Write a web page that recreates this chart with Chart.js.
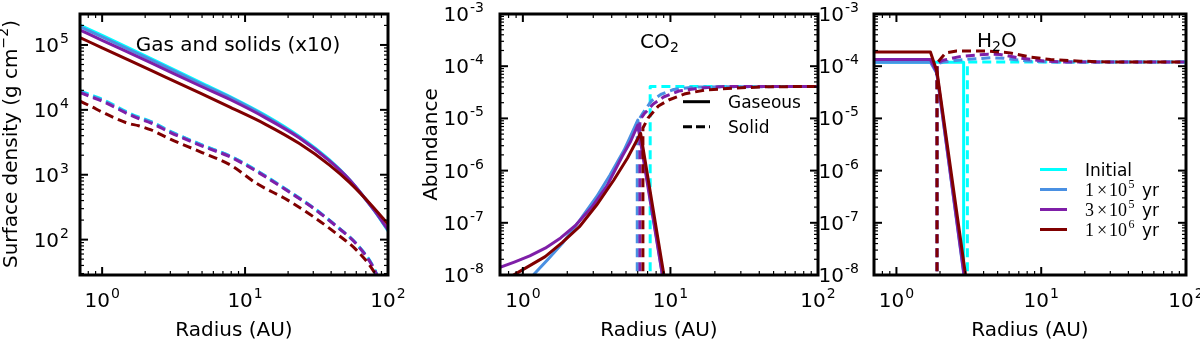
<!DOCTYPE html>
<html>
<head>
<meta charset="utf-8">
<script src="https://cdn.jsdelivr.net/npm/chart.js@4"></script>
<style>
  body { margin: 0; background: #fff; }
  #wrap { position: relative; width: 1200px; height: 341px; overflow: hidden; }
  canvas { position: absolute; top: 0; }
</style>
</head>
<body>
<div id="wrap">
  <canvas id="c1" width="430" height="341" style="left:0px"></canvas>
  <canvas id="c2" width="440" height="341" style="left:410px"></canvas>
  <canvas id="c3" width="400" height="341" style="left:800px"></canvas>
</div>
<script>
// ---------- DATA ----------
const colors = ['#00ffff', '#4a90e2', '#7f1fa8', '#800000'];
const legendMant = ['', '1', '3', '1'];
const legendExp = ['', '5', '5', '6'];

// panel 1 : surface density (gas solid lines, solids x10 dashed)
const gasRadius = [0.7, 1, 2.2, 4.9, 7.9, 13.8, 24, 39, 54, 80, 100];
const gasInitial = [2.03e5, 1.40e5, 6.18e4, 2.63e4, 1.59e4, 8.32e3, 3.89e3, 1.69e3, 832, 282, 136];
const gas1e5 = [1.92e5, 1.33e5, 5.89e4, 2.52e4, 1.54e4, 8.03e3, 3.77e3, 1.65e3, 832, 282, 140];
const gas3e5 = [1.70e5, 1.18e5, 5.30e4, 2.31e4, 1.43e4, 7.60e3, 3.69e3, 1.63e3, 826, 284, 143];
const gas1e6 = [1.30e5, 9.03e4, 4.05e4, 1.79e4, 1.09e4, 6.04e3, 3.02e3, 1.41e3, 754, 305, 173];

const dustRadius = [0.7, 0.85, 1, 1.5, 1.8, 2.2, 3, 5, 8, 12, 20, 30, 45, 60, 80, 100];
const dustInitial = [1.97e4, 1.67e4, 1.46e4, 9.25e3, 7.76e3, 6.6e3, 4.68e3, 2.88e3, 1.91e3, 1.17e3, 570, 312, 153, 87, 36, 10];
const dust1e5 = [1.9e4, 1.62e4, 1.42e4, 9.0e3, 7.6e3, 6.5e3, 4.62e3, 2.85e3, 1.9e3, 1.16e3, 565, 310, 152, 86, 35.5, 10];
const dust3e5 = [1.84e4, 1.56e4, 1.36e4, 8.74e3, 7.33e3, 6.25e3, 4.47e3, 2.77e3, 1.85e3, 1.13e3, 556, 305, 151, 86, 35, 10];
const dust1e6 = [1.36e4, 1.11e4, 9.24e3, 6.25e3, 5.68e3, 4.90e3, 3.53e3, 2.20e3, 1.39e3, 738, 403, 226, 117, 69.5, 31.8, 11.9];

// panel 2 : CO2 abundance
const co2GasR1e5 = [1.079, 1.207, 1.487, 1.853, 2.407, 3.162, 3.897, 4.857, 5.37, 6.01, 8.91];
const co2Gas1e5 = [7.3e-9, 1.08e-8, 2.03e-8, 4.05e-8, 1.08e-7, 3.16e-7, 8.24e-7, 2.48e-6, 4.6e-6, 9.3e-6, 8.4e-9];
const co2GasR3e5 = [0.7, 0.875, 1.114, 1.417, 1.803, 2.294, 2.918, 3.713, 4.725, 5.37, 6.01, 8.91];
const co2Gas3e5 = [1.40e-8, 1.77e-8, 2.32e-8, 3.26e-8, 5.12e-8, 9.16e-8, 1.96e-7, 5.11e-7, 1.9e-6, 3.61e-6, 7.48e-6, 8.4e-9];
const co2GasR1e6 = [0.808, 0.948, 1.417, 1.853, 2.418, 3.162, 4.135, 5.12, 6.28, 9.13];
const co2Gas1e6 = [8.9e-9, 1.16e-8, 2.25e-8, 4.2e-8, 8.41e-8, 2.19e-7, 6.6e-7, 1.74e-6, 5.19e-6, 8.3e-9];

const co2IceRInit = [7.29, 7.29, 100];
const co2IceInit = [1e-9, 4.1e-5, 4.1e-5];
const co2IceR1e5 = [5.96, 5.96, 6.51, 7.41, 8.70, 10.5, 14.5, 100];
const co2Ice1e5 = [1e-9, 8.5e-6, 1.27e-5, 2.15e-5, 2.93e-5, 3.58e-5, 4.0e-5, 4.1e-5];
const co2IceR3e5 = [6.21, 6.21, 6.62, 7.65, 8.98, 11.4, 15.8, 23.5, 100];
const co2Ice3e5 = [1e-9, 9.3e-6, 1.21e-5, 1.89e-5, 2.57e-5, 3.35e-5, 3.82e-5, 4.08e-5, 4.1e-5];
const co2IceR1e6 = [6.51, 6.51, 7.06, 8.29, 9.73, 12.4, 17.1, 27.6, 44.7, 100];
const co2Ice1e6 = [1e-9, 6.55e-6, 1.02e-5, 1.73e-5, 2.25e-5, 2.93e-5, 3.50e-5, 3.82e-5, 4.03e-5, 4.1e-5];

// panel 3 : H2O abundance
const h2oGasRInit = [0.7, 2.912, 2.912];
const h2oGasInit = [1.19e-4, 1.19e-4, 1e-9];
const h2oGasR1e5 = [0.7, 1.717, 1.9, 2.97];
const h2oGas1e5 = [1.19e-4, 1.19e-4, 7.3e-5, 7.3e-9];
const h2oGasR3e5 = [0.7, 1.717, 1.9, 2.98];
const h2oGas3e5 = [1.34e-4, 1.34e-4, 7.6e-5, 7.3e-9];
const h2oGasR1e6 = [0.7, 1.717, 1.907, 3.05];
const h2oGas1e6 = [1.87e-4, 1.87e-4, 7.85e-5, 7.3e-9];

const h2oIceRInit = [3.09, 3.09, 100];
const h2oIceInit = [1e-9, 1.2e-4, 1.2e-4];
const h2oIceR1e5 = [1.907, 1.907, 2.1, 3, 4.5, 5.5, 8, 12, 100];
const h2oIce1e5 = [1e-9, 1.1e-4, 1.2e-4, 1.35e-4, 1.45e-4, 1.42e-4, 1.26e-4, 1.2e-4, 1.2e-4];
const h2oIceR3e5 = [1.907, 1.907, 2.1, 2.8, 4.3, 5.2, 7.2, 10.5, 15, 100];
const h2oIce3e5 = [1e-9, 1.15e-4, 1.3e-4, 1.55e-4, 1.7e-4, 1.68e-4, 1.42e-4, 1.26e-4, 1.2e-4, 1.2e-4];
const h2oIceR1e6 = [1.907, 1.907, 2.19, 2.6, 4.3, 6.1, 8.4, 11.6, 18.6, 30, 100];
const h2oIce1e6 = [1e-9, 1.15e-4, 1.8e-4, 1.95e-4, 1.95e-4, 1.8e-4, 1.5e-4, 1.34e-4, 1.25e-4, 1.2e-4, 1.2e-4];

// ---------- HELPERS ----------
const FONT = '"DejaVu Sans", sans-serif';
const SERIF = '"Liberation Serif", serif';

let drawIdx = 0;
function ds(rs, vs, color, dashed, smooth) {
  drawIdx++;
  return {
    data: rs.map((r, i) => ({ x: r, y: vs[i] })),
    borderColor: color,
    borderDash: dashed ? [9, 5] : [],
    cubicInterpolationMode: smooth ? 'monotone' : 'default',
    order: -drawIdx,   // later datasets on top
    clip: 0,
    fill: false
  };
}

function logTicks(min, max) {
  const out = [];
  for (let d = Math.floor(Math.log10(min)); d <= Math.ceil(Math.log10(max)); d++) {
    for (let m = 1; m <= 9; m++) {
      const v = m * Math.pow(10, d);
      if (v >= min * 0.9999 && v <= max * 1.0001) out.push({ v: v, major: m === 1, e: d });
    }
  }
  return out;
}

// "10" with superscript exponent
function powLabel(ctx, e, x, baseY, align) {
  const es = String(e);
  ctx.font = '20px ' + FONT;
  const w1 = ctx.measureText('10').width;
  ctx.font = '14px ' + FONT;
  const w2 = ctx.measureText(es).width;
  const x0 = align === 'right' ? x - w1 - w2 - 1 : x - (w1 + w2 + 1) / 2;
  ctx.textAlign = 'left';
  ctx.textBaseline = 'alphabetic';
  ctx.font = '20px ' + FONT;
  ctx.fillText('10', x0, baseY);
  ctx.font = '14px ' + FONT;
  ctx.fillText(es, x0 + w1 + 1, baseY - 9);
}

function makeFrame(yPad, extra) {
  return {
    id: 'frame',
    afterDraw(chart) {
      const ctx = chart.ctx, a = chart.chartArea;
      const xs = chart.scales.x, ys = chart.scales.y;
      ctx.save();
      ctx.strokeStyle = '#000';
      ctx.fillStyle = '#000';
      const seg = (x1, y1, x2, y2) => { ctx.beginPath(); ctx.moveTo(x1, y1); ctx.lineTo(x2, y2); ctx.stroke(); };
      logTicks(xs.min, xs.max).forEach(t => {
        const p = xs.getPixelForValue(t.v), L = t.major ? 8 : 4;
        ctx.lineWidth = t.major ? 2 : 1.2;
        seg(p, a.bottom, p, a.bottom - L);
        seg(p, a.top, p, a.top + L);
        if (t.major) powLabel(ctx, t.e, p, 307, 'center');
      });
      logTicks(ys.min, ys.max).forEach(t => {
        const p = ys.getPixelForValue(t.v), L = t.major ? 8 : 4;
        ctx.lineWidth = t.major ? 2 : 1.2;
        seg(a.left, p, a.left + L, p);
        seg(a.right, p, a.right - L, p);
        if (t.major) powLabel(ctx, t.e, a.left - yPad, p + 7, 'right');
      });
      ctx.lineWidth = 3;
      ctx.strokeRect(a.left, a.top, a.right - a.left, a.bottom - a.top);
      ctx.font = '20px ' + FONT;
      ctx.textAlign = 'center';
      ctx.textBaseline = 'alphabetic';
      ctx.fillText('Radius (AU)', (a.left + a.right) / 2, 336);
      if (extra) extra(ctx, a);
      ctx.restore();
    }
  };
}

function vTitle(ctx, x, y, parts) {
  ctx.save();
  ctx.translate(x, y);
  ctx.rotate(-Math.PI / 2);
  let w = 0;
  parts.forEach(p => { ctx.font = p.font; p.w = ctx.measureText(p.t).width; w += p.w; });
  let cx = -w / 2;
  ctx.textAlign = 'left';
  parts.forEach(p => { ctx.font = p.font; ctx.fillText(p.t, cx, p.dy || 0); cx += p.w; });
  ctx.restore();
}

function mkChart(id, xMin, xMax, yMin, yMax, pad, datasets, frame) {
  return new Chart(document.getElementById(id), {
    type: 'line',
    data: { datasets: datasets },
    options: {
      responsive: false,
      animation: false,
      layout: { padding: pad },
      scales: {
        x: { type: 'logarithmic', min: xMin, max: xMax, display: false },
        y: { type: 'logarithmic', min: yMin, max: yMax, display: false }
      },
      plugins: { legend: { display: false }, tooltip: { enabled: false } },
      elements: {
        point: { radius: 0 },
        line: { borderWidth: 3, tension: 0, borderJoinStyle: 'round' }
      }
    },
    plugins: [frame]
  });
}

// ---------- PANEL 1 ----------
const sets1 = [
  ds(gasRadius, gasInitial, colors[0], false, true), ds(dustRadius, dustInitial, colors[0], true, true),
  ds(gasRadius, gas1e5, colors[1], false, true), ds(dustRadius, dust1e5, colors[1], true, true),
  ds(gasRadius, gas3e5, colors[2], false, true), ds(dustRadius, dust3e5, colors[2], true, true),
  ds(gasRadius, gas1e6, colors[3], false, true), ds(dustRadius, dust1e6, colors[3], true, true)
];
mkChart('c1', 0.71, 100, 28.5, 3e5, { left: 80, right: 42, top: 14, bottom: 66 }, sets1,
  makeFrame(11, (ctx, a) => {
    ctx.font = '20px ' + FONT;
    ctx.textAlign = 'center';
    ctx.fillText('Gas and solids (x10)', 238, 51);
    vTitle(ctx, 17, 144, [
      { t: 'Surface density (g cm', font: '20px ' + FONT },
      { t: '\u22122', font: '14px ' + FONT, dy: -9 },
      { t: ')', font: '20px ' + FONT }
    ]);
  }));

// ---------- PANEL 2 ----------
const sets2 = [
  ds(co2IceRInit, co2IceInit, colors[0], true),
  ds(co2GasR1e5, co2Gas1e5, colors[1], false), ds(co2IceR1e5, co2Ice1e5, colors[1], true),
  ds(co2GasR3e5, co2Gas3e5, colors[2], false), ds(co2IceR3e5, co2Ice3e5, colors[2], true),
  ds(co2GasR1e6, co2Gas1e6, colors[3], false), ds(co2IceR1e6, co2Ice1e6, colors[3], true)
];
mkChart('c2', 0.71, 100, 1e-8, 1e-3, { left: 90, right: 32, top: 14, bottom: 66 }, sets2,
  makeFrame(16, (ctx, a) => {
    const ox = 410;
    ctx.textAlign = 'left';
    ctx.font = '20px ' + FONT;
    ctx.fillText('CO', 640 - ox, 48);
    ctx.font = '14px ' + FONT;
    ctx.fillText('2', 670 - ox, 52);
    vTitle(ctx, 436.5 - ox, 144.5, [{ t: 'Abundance', font: '20px ' + FONT }]);
    // legend: line styles
    ctx.strokeStyle = '#000';
    ctx.lineWidth = 3;
    ctx.beginPath(); ctx.moveTo(683 - ox, 101.7); ctx.lineTo(710 - ox, 101.7); ctx.stroke();
    ctx.setLineDash([9, 4]);
    ctx.beginPath(); ctx.moveTo(683 - ox, 126.7); ctx.lineTo(710 - ox, 126.7); ctx.stroke();
    ctx.setLineDash([]);
    ctx.font = '17px ' + FONT;
    ctx.fillText('Gaseous', 728 - ox, 107.5);
    ctx.fillText('Solid', 728 - ox, 132.5);
  }));

// ---------- PANEL 3 ----------
const sets3 = [
  ds(h2oGasRInit, h2oGasInit, colors[0], false), ds(h2oIceRInit, h2oIceInit, colors[0], true),
  ds(h2oGasR1e5, h2oGas1e5, colors[1], false), ds(h2oIceR1e5, h2oIce1e5, colors[1], true),
  ds(h2oGasR3e5, h2oGas3e5, colors[2], false), ds(h2oIceR3e5, h2oIce3e5, colors[2], true),
  ds(h2oGasR1e6, h2oGas1e6, colors[3], false), ds(h2oIceR1e6, h2oIce1e6, colors[3], true)
];
mkChart('c3', 0.71, 100, 1e-8, 1e-3, { left: 74, right: 14, top: 14, bottom: 66 }, sets3,
  makeFrame(15, (ctx, a) => {
    const ox = 800;
    ctx.textAlign = 'left';
    ctx.font = '20px ' + FONT;
    ctx.fillText('H', 977 - ox, 46.5);
    const wH = ctx.measureText('H').width;
    ctx.font = '14px ' + FONT;
    ctx.fillText('2', 977 - ox + wH, 50.5);
    const w2 = ctx.measureText('2').width;
    ctx.font = '20px ' + FONT;
    ctx.fillText('O', 977 - ox + wH + w2, 46.5);
    // legend
    colors.forEach((c, i) => {
      const y = 169.5 + 20 * i;
      ctx.strokeStyle = c;
      ctx.lineWidth = 3;
      ctx.beginPath(); ctx.moveTo(1040 - ox, y); ctx.lineTo(1067 - ox, y); ctx.stroke();
      const by = y + 6.5;
      const x = 1085 - ox;
      if (i === 0) {
        ctx.font = '17px ' + FONT;
        ctx.fillText('Initial', x, by);
      } else {
        ctx.font = '18px ' + SERIF;
        ctx.fillText(legendMant[i], x, by);
        ctx.fillText('\u00d7', x + 12, by);
        ctx.fillText('10', x + 24, by);
        ctx.font = '12px ' + SERIF;
        ctx.fillText(legendExp[i], x + 43.5, by - 8);
        ctx.font = '17px ' + FONT;
        ctx.fillText('yr', x + 57, by);
      }
    });
  }));
</script>
</body>
</html>
